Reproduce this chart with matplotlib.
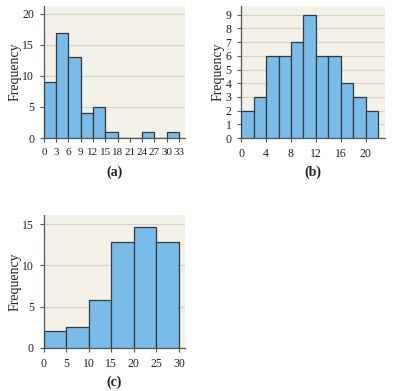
import matplotlib
matplotlib.use("Agg")
import matplotlib.pyplot as plt
import numpy as np
from matplotlib.transforms import offset_copy

# panel (a): class width 3
a_edges = [0, 3, 6, 9, 12, 15, 18, 21, 24, 27, 30, 33]
a_freq = [9, 17, 13, 4, 5, 1, 0, 0, 1, 0, 1]
a_yticks = [0, 5, 10, 15, 20]

# panel (b): class width 2
b_edges = [0, 2, 4, 6, 8, 10, 12, 14, 16, 18, 20, 22]
b_freq = [2, 3, 6, 6, 7, 9, 6, 6, 4, 3, 2]
b_xticks = [0, 4, 8, 12, 16, 20]
b_yticks = [0, 1, 2, 3, 4, 5, 6, 7, 8, 9]

# panel (c): class width 5 (density-like heights)
c_edges = [0, 5, 10, 15, 20, 25, 30]
c_freq = [2.0, 2.5, 5.8, 12.8, 14.6, 12.8]
c_xticks = [0, 5, 10, 15, 20, 25, 30]
c_yticks = [0, 5, 10, 15]

BAR = "#7abce9"
EDGE = "#33383c"
BG = "#f4f1e9"
GRID = "#d3d3cf"
TXT = "#222222"

plt.rcParams["font.family"] = ["Liberation Serif", "DejaVu Serif"]


def hist_panel(fig, ax, edges, freq, xticks, yticks, xlim, ylim, label):
    edges = np.asarray(edges, dtype=float)
    ax.set_facecolor(BG)
    ax.bar(edges[:-1], freq, width=np.diff(edges), align="edge",
           color=BAR, edgecolor=EDGE, linewidth=0.9, zorder=3)
    ax.set_xticks(xticks)
    ax.set_yticks(yticks)
    ax.set_xlim(*xlim)
    ax.set_ylim(*ylim)
    ax.yaxis.grid(True, color=GRID, lw=0.9, zorder=0)
    ax.set_axisbelow(True)
    for side in ("top", "right"):
        ax.spines[side].set_visible(False)
    for side in ("left", "bottom"):
        ax.spines[side].set_color("#555555")
        ax.spines[side].set_linewidth(0.9)
    ax.tick_params(direction="out", length=3, width=0.8, color="#555555",
                   labelsize=8.5, labelcolor=TXT)
    ax.tick_params(axis="x", pad=4.5)
    ax.tick_params(axis="y", pad=4)
    ax.set_ylabel("Frequency", fontsize=10, color=TXT, labelpad=0.5)
    # panel tag sits a fixed ~34 px under the x axis
    tr = offset_copy(ax.transAxes, fig=fig, x=0, y=-34, units="dots")
    ax.text(0.5, 0, label, transform=tr, ha="center", va="center",
            fontsize=10, fontweight="bold", color=TXT)


fig = plt.figure(figsize=(3.96, 3.91), dpi=100)
fig.patch.set_facecolor("white")

ax_a = fig.add_axes([0.111, 0.647, 0.356, 0.338])
hist_panel(fig, ax_a, a_edges, a_freq, a_edges, a_yticks, (0, 34.5), (0, 21.3), "(a)")
ax_a.tick_params(axis="x", labelsize=8)

ax_b = fig.add_axes([0.609, 0.647, 0.363, 0.338])
hist_panel(fig, ax_b, b_edges, b_freq, b_xticks, b_yticks, (0, 23.1), (0, 9.65), "(b)")

ax_c = fig.add_axes([0.110, 0.110, 0.357, 0.340])
hist_panel(fig, ax_c, c_edges, c_freq, c_xticks, c_yticks, (0, 31.3), (0, 16.1), "(c)")

fig.savefig("out.png", dpi=100)
